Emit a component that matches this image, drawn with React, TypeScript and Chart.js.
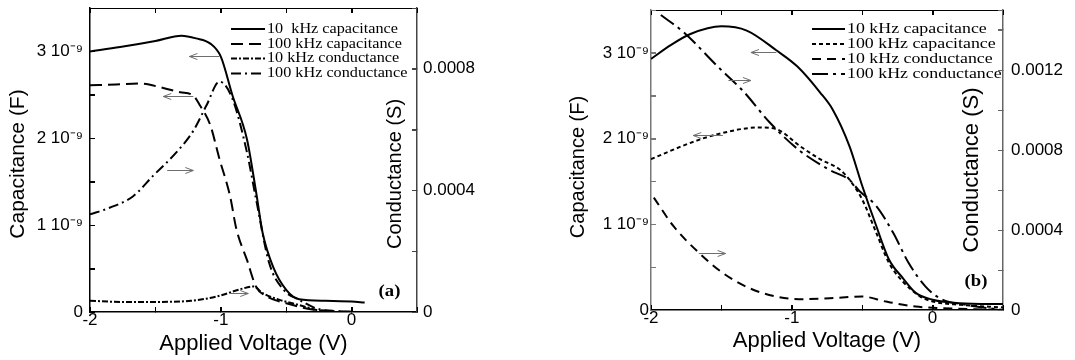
import React, { useEffect, useRef } from 'react';
import { Chart, registerables } from 'chart.js';

Chart.register(...registerables);

// ---------------- Panel (a) data ----------------
const voltA_cap10k = [-2.0, -1.77, -1.5, -1.3, -1.19, -1.08, -1.0, -0.91, -0.8, -0.73, -0.68, -0.6, -0.5, -0.4, -0.2, 0.0, 0.1];
const capA_10k = [3.0e-9, 3.05e-9, 3.12e-9, 3.18e-9, 3.15e-9, 3.09e-9, 2.94e-9, 2.49e-9, 1.99e-9, 1.38e-9, 0.91e-9, 0.52e-9, 0.255e-9, 0.147e-9, 0.13e-9, 0.12e-9, 0.108e-9];

const voltA_cap100k = [-2.0, -1.8, -1.62, -1.44, -1.31, -1.21, -1.16, -1.08, -1.01, -0.93, -0.88, -0.8, -0.73, -0.65, -0.5, -0.3, -0.1, 0.05];
const capA_100k = [2.61e-9, 2.62e-9, 2.63e-9, 2.58e-9, 2.53e-9, 2.49e-9, 2.38e-9, 2.15e-9, 1.76e-9, 1.34e-9, 0.95e-9, 0.6e-9, 0.29e-9, 0.18e-9, 0.1e-9, 0.03e-9, 0.01e-9, 0.0];

const voltA_cond10k = [-2.0, -1.75, -1.54, -1.23, -1.03, -0.85, -0.75, -0.68, -0.55, -0.4, -0.24, -0.1, 0.0];
const condA_10k = [0.37e-4, 0.33e-4, 0.33e-4, 0.37e-4, 0.51e-4, 0.75e-4, 0.84e-4, 0.62e-4, 0.4e-4, 0.23e-4, 0.04e-4, 0.0, 0.0];

const voltA_cond100k = [-2.0, -1.85, -1.67, -1.52, -1.34, -1.21, -1.11, -1.01, -0.91, -0.8, -0.73, -0.63, -0.52, -0.4, -0.27, -0.1, 0.05];
const condA_100k = [3.21e-4, 3.43e-4, 3.81e-4, 4.47e-4, 5.25e-4, 5.96e-4, 6.79e-4, 7.58e-4, 7.0e-4, 5.25e-4, 3.7e-4, 1.61e-4, 0.73e-4, 0.4e-4, 0.12e-4, 0.02e-4, 0.0];

// ---------------- Panel (b) data ----------------
const voltB_cap10k = [-2.0, -1.86, -1.72, -1.5, -1.32, -1.11, -0.96, -0.8, -0.71, -0.59, -0.5, -0.4, -0.31, -0.21, -0.12, 0.0, 0.19, 0.5];
const capB_10k = [2.93e-9, 3.09e-9, 3.22e-9, 3.31e-9, 3.26e-9, 3.03e-9, 2.84e-9, 2.54e-9, 2.34e-9, 1.91e-9, 1.45e-9, 0.98e-9, 0.59e-9, 0.37e-9, 0.2e-9, 0.12e-9, 0.08e-9, 0.07e-9];

const voltB_cap100k = [-2.0, -1.72, -1.53, -1.23, -1.11, -0.94, -0.8, -0.66, -0.59, -0.5, -0.4, -0.31, -0.21, -0.09, 0.0, 0.2, 0.5];
const capB_100k = [1.76e-9, 1.95e-9, 2.05e-9, 2.13e-9, 2.11e-9, 1.91e-9, 1.76e-9, 1.64e-9, 1.52e-9, 1.29e-9, 0.9e-9, 0.55e-9, 0.33e-9, 0.16e-9, 0.1e-9, 0.06e-9, 0.03e-9];

const voltB_cond10k = [-1.98, -1.84, -1.67, -1.49, -1.3, -1.11, -0.95, -0.73, -0.5, -0.33, -0.12, 0.07, 0.3, 0.5];
const condB_10k = [5.62e-4, 4.19e-4, 2.93e-4, 1.85e-4, 1.09e-4, 0.67e-4, 0.54e-4, 0.59e-4, 0.67e-4, 0.42e-4, 0.17e-4, 0.09e-4, 0.04e-4, 0.01e-4];

const voltB_cond100k = [-1.93, -1.77, -1.53, -1.34, -1.16, -0.95, -0.73, -0.59, -0.52, -0.4, -0.28, -0.17, -0.05, 0.05, 0.24, 0.5];
const condB_100k = [14.75e-4, 13.9e-4, 12.2e-4, 10.9e-4, 9.4e-4, 8.0e-4, 7.0e-4, 6.5e-4, 5.95e-4, 5.2e-4, 3.86e-4, 2.35e-4, 1.17e-4, 0.59e-4, 0.25e-4, 0.0];

// Legend labels
const labelsA = ['10  kHz capacitance', '100 kHz capacitance', '10 kHz conductance', '100 kHz conductance'];
const labelsB = ['10 kHz capacitance', '100 kHz capacitance', '10 kHz conductance', '100 kHz conductance'];

// Arrow annotations: [fromV, toV, capacitance level]
const arrowsA = [
  [-1.01, -1.24, 2.95e-9],
  [-1.21, -1.44, 2.49e-9],
  [-1.41, -1.21, 1.63e-9],
  [-0.93, -0.79, 0.22e-9],
];
const arrowsB = [
  [-1.11, -1.29, 3.01e-9],
  [-1.45, -1.29, 2.68e-9],
  [-1.49, -1.7, 2.04e-9],
  [-1.66, -1.47, 0.66e-9],
];

// Axis ranges / ticks
const voltMin = -2;
const voltMax = 0.5;
const voltStep = 0.5;
const capMax = 3.5e-9;
const capStep = 0.5e-9;
const condStep = 0.0002;
const condMaxA = 0.001;
const condMaxB = 0.0015;

const SANS = "'Liberation Sans', Arial, sans-serif";
const SERIF = "'Liberation Serif', 'Times New Roman', serif";

type Series = { v: number[]; y: number[]; axis: string; dash: number[] };

type PanelSpec = {
  series: Series[];
  labels: string[];
  arrows: number[][];
  condMax: number;
  padTop: number;
  yLeftWidth: number;
  yRightWidth: number;
  xHeight: number;
  yLeftPad: number;
  yRightPad: number;
  xTitlePad: number;
  leftColor: string;
  rightColor: string;
  leftTitle: { x: number; y: number; size: number };
  rightTitle: { x: number; y: number; size: number };
  legend: { x1: number; x2: number; tx: number; rows: number[]; sx: number; size: number };
  tag: { text: string; x: number; y: number; sx: number };
};

function drawArrow(ctx: CanvasRenderingContext2D, x1: number, y: number, x2: number) {
  const dir = Math.sign(x2 - x1);
  ctx.beginPath();
  ctx.moveTo(x1, y);
  ctx.lineTo(x2, y);
  ctx.stroke();
  ctx.beginPath();
  ctx.moveTo(x2 - dir * 8, y - 3);
  ctx.lineTo(x2, y);
  ctx.lineTo(x2 - dir * 8, y + 3);
  ctx.stroke();
}

const TICK = 5;

function drawInwardTicks(chart: any, p: PanelSpec) {
  const { ctx, scales, chartArea } = chart;
  ctx.save();
  ctx.lineWidth = 1;
  ctx.setLineDash([]);
  const axes: [string, string][] = [['x', '#000'], ['x2', '#000'], ['y', p.leftColor], ['y2', p.rightColor]];
  axes.forEach(([id, color]) => {
    const s = scales[id];
    if (!s) return;
    ctx.strokeStyle = color;
    s.ticks.forEach((t: any) => {
      const px = Math.round(s.getPixelForValue(t.value)) + 0.5;
      ctx.beginPath();
      if (id === 'x') { ctx.moveTo(px, chartArea.bottom); ctx.lineTo(px, chartArea.bottom - TICK); }
      else if (id === 'x2') { ctx.moveTo(px, chartArea.top); ctx.lineTo(px, chartArea.top + TICK); }
      else if (id === 'y') { ctx.moveTo(chartArea.left, px); ctx.lineTo(chartArea.left + TICK, px); }
      else { ctx.moveTo(chartArea.right, px); ctx.lineTo(chartArea.right - TICK, px); }
      ctx.stroke();
    });
  });
  ctx.restore();
}

function makeDecor(p: PanelSpec) {
  return {
    id: 'decor',
    afterDraw(chart: any) {
      const { ctx, scales } = chart;
      const xs = scales.x;
      const ys = scales.y;
      drawInwardTicks(chart, p);
      ctx.save();
      // arrows
      ctx.strokeStyle = '#6e6e6e';
      ctx.lineWidth = 1;
      ctx.setLineDash([]);
      p.arrows.forEach((a) => {
        drawArrow(ctx, xs.getPixelForValue(a[0]), Math.round(ys.getPixelForValue(a[2])) + 0.5, xs.getPixelForValue(a[1]));
      });
      // legend
      chart.data.datasets.forEach((ds: any, i: number) => {
        const yy = p.legend.rows[i];
        ctx.strokeStyle = '#000';
        ctx.lineWidth = 2;
        ctx.setLineDash(ds.borderDash || []);
        ctx.beginPath();
        ctx.moveTo(p.legend.x1, yy);
        ctx.lineTo(p.legend.x2, yy);
        ctx.stroke();
        ctx.setLineDash([]);
        ctx.save();
        ctx.translate(p.legend.tx, yy);
        ctx.scale(p.legend.sx, 1);
        ctx.fillStyle = '#000';
        ctx.font = `${p.legend.size}px ${SERIF}`;
        ctx.textAlign = 'left';
        ctx.textBaseline = 'middle';
        ctx.fillText(ds.label, 0, 0);
        ctx.restore();
      });
      // panel tag
      ctx.save();
      ctx.translate(p.tag.x, p.tag.y);
      ctx.scale(p.tag.sx, 1);
      ctx.fillStyle = '#000';
      ctx.font = `bold 17px ${SERIF}`;
      ctx.textAlign = 'center';
      ctx.textBaseline = 'middle';
      ctx.fillText(p.tag.text, 0, 0);
      ctx.restore();
      // y titles
      const vt = (text: string, t: { x: number; y: number; size: number }) => {
        ctx.save();
        ctx.translate(t.x, t.y);
        ctx.rotate(-Math.PI / 2);
        ctx.fillStyle = '#000';
        ctx.font = `${t.size}px ${SANS}`;
        ctx.textAlign = 'center';
        ctx.textBaseline = 'middle';
        ctx.fillText(text, 0, 0);
        ctx.restore();
      };
      vt('Capacitance (F)', p.leftTitle);
      vt('Conductance (S)', p.rightTitle);
      ctx.restore();
    },
  };
}

function capLabel(v: number) {
  const h = v / capStep;
  const n = Math.round(h);
  if (Math.abs(h - n) > 1e-6 || n % 2 !== 0) return '';
  const k = n / 2;
  return k === 0 ? '0' : `${k} 10\u207B\u2079`;
}

function condLabel(v: number) {
  const h = v / condStep;
  const n = Math.round(h);
  if (Math.abs(h - n) > 1e-6 || n % 2 !== 0) return '';
  return n === 0 ? '0' : (n * condStep).toFixed(4);
}

function voltLabel(v: number) {
  const n = Math.round(v);
  if (Math.abs(v - n) > 1e-6) return '';
  return n === 0 ? '0' : String(n);
}

function zeroPad(s: any) {
  s.paddingTop = 0;
  s.paddingBottom = 0;
  s.paddingLeft = 0;
  s.paddingRight = 0;
}

function buildConfig(p: PanelSpec): any {
  const tickFont = { family: SANS, size: 17 };
  return {
    type: 'line',
    data: {
      datasets: p.series.map((s, i) => ({
        label: p.labels[i],
        data: s.v.map((x, j) => ({ x, y: s.y[j] })),
        yAxisID: s.axis,
        xAxisID: 'x',
        borderColor: '#000',
        borderWidth: 2,
        borderDash: s.dash,
        pointRadius: 0,
        fill: false,
        cubicInterpolationMode: 'monotone',
      })),
    },
    options: {
      animation: false,
      responsive: true,
      maintainAspectRatio: false,
      layout: { padding: { top: p.padTop, left: 0, right: 0, bottom: 0 } },
      plugins: { legend: { display: false }, tooltip: { enabled: false } },
      scales: {
        x: {
          type: 'linear',
          position: 'bottom',
          min: voltMin,
          max: voltMax,
          afterFit: (s: any) => { s.height = p.xHeight; zeroPad(s); },
          ticks: { stepSize: voltStep, autoSkip: false, maxRotation: 0, padding: 3, color: '#000', font: tickFont, callback: (v: any) => voltLabel(Number(v)) },
          grid: { drawOnChartArea: false, drawTicks: true, tickLength: -5, color: '#000', lineWidth: 1 },
          border: { color: '#000', width: 1.5 },
          title: { display: true, text: 'Applied Voltage (V)', color: '#000', font: { family: SANS, size: 22 }, padding: { top: 0, bottom: p.xTitlePad } },
        },
        x2: {
          type: 'linear',
          position: 'top',
          min: voltMin,
          max: voltMax,
          afterFit: (s: any) => { s.height = 0; zeroPad(s); },
          ticks: { stepSize: voltStep, display: false },
          grid: { drawOnChartArea: false, drawTicks: true, tickLength: -5, color: '#000', lineWidth: 1 },
          border: { color: '#000', width: 1 },
        },
        y: {
          type: 'linear',
          position: 'left',
          min: 0,
          max: capMax,
          afterFit: (s: any) => { s.width = p.yLeftWidth; zeroPad(s); },
          ticks: { stepSize: capStep, autoSkip: false, padding: p.yLeftPad, color: '#000', font: tickFont, callback: (v: any) => capLabel(Number(v)) },
          grid: { drawOnChartArea: false, drawTicks: true, tickLength: -5, color: p.leftColor, lineWidth: 1 },
          border: { color: p.leftColor, width: 1.5 },
        },
        y2: {
          type: 'linear',
          position: 'right',
          min: 0,
          max: p.condMax,
          afterFit: (s: any) => { s.width = p.yRightWidth; zeroPad(s); },
          ticks: { stepSize: condStep, autoSkip: false, padding: p.yRightPad, color: '#000', font: tickFont, callback: (v: any) => condLabel(Number(v)) },
          grid: { drawOnChartArea: false, drawTicks: true, tickLength: -5, color: p.rightColor, lineWidth: 1 },
          border: { color: p.rightColor, width: 1.5 },
        },
      },
    },
    plugins: [makeDecor(p)],
  };
}

const specA: PanelSpec = {
  series: [
    { v: voltA_cap10k, y: capA_10k, axis: 'y', dash: [] },
    { v: voltA_cap100k, y: capA_100k, axis: 'y', dash: [12, 6] },
    { v: voltA_cond10k, y: condA_10k, axis: 'y2', dash: [6, 2, 2, 2] },
    { v: voltA_cond100k, y: condA_100k, axis: 'y2', dash: [10, 4, 2, 4] },
  ],
  labels: labelsA,
  arrows: arrowsA,
  condMax: condMaxA,
  padTop: 8,
  yLeftWidth: 90,
  yRightWidth: 113,
  xHeight: 48,
  yLeftPad: 12,
  yRightPad: 11,
  xTitlePad: 3,
  leftColor: '#000',
  rightColor: '#444',
  leftTitle: { x: 18, y: 164, size: 21 },
  rightTitle: { x: 395, y: 174, size: 20 },
  legend: { x1: 231, x2: 265, tx: 267, rows: [29, 44, 58.5, 73.5], sx: 1.08, size: 15 },
  tag: { text: '(a)', x: 389.5, y: 292, sx: 1.1 },
};

const specB: PanelSpec = {
  series: [
    { v: voltB_cap10k, y: capB_10k, axis: 'y', dash: [] },
    { v: voltB_cap100k, y: capB_100k, axis: 'y', dash: [4, 3] },
    { v: voltB_cond10k, y: condB_10k, axis: 'y2', dash: [9, 6] },
    { v: voltB_cond100k, y: condB_100k, axis: 'y2', dash: [16, 5, 3, 5] },
  ],
  labels: labelsB,
  arrows: arrowsB,
  condMax: condMaxB,
  padTop: 10,
  yLeftWidth: 121,
  yRightWidth: 72,
  xHeight: 50,
  yLeftPad: 7,
  yRightPad: 13,
  xTitlePad: 6,
  leftColor: '#777',
  rightColor: '#666',
  leftTitle: { x: 48.5, y: 167, size: 20 },
  rightTitle: { x: 442, y: 170, size: 22 },
  legend: { x1: 282, x2: 315, tx: 317, rows: [29, 44, 59, 74], sx: 1.19, size: 15 },
  tag: { text: '(b)', x: 446, y: 281.5, sx: 1.1 },
};

function Panel({ spec, left, width }: { spec: PanelSpec; left: number; width: number }) {
  const ref = useRef<HTMLCanvasElement>(null);
  useEffect(() => {
    if (!ref.current) return;
    const chart = new Chart(ref.current, buildConfig(spec));
    return () => chart.destroy();
  }, [spec]);
  return (
    <div style={{ position: 'absolute', left, top: 0, width, height: 360 }}>
      <canvas ref={ref} />
    </div>
  );
}

export default function App() {
  return (
    <div style={{ position: 'fixed', left: 0, top: 0, width: 1075, height: 360, background: '#fff', overflow: 'hidden' }}>
      <Panel spec={specA} left={0} width={530} />
      <Panel spec={specB} left={530} width={545} />
    </div>
  );
}
